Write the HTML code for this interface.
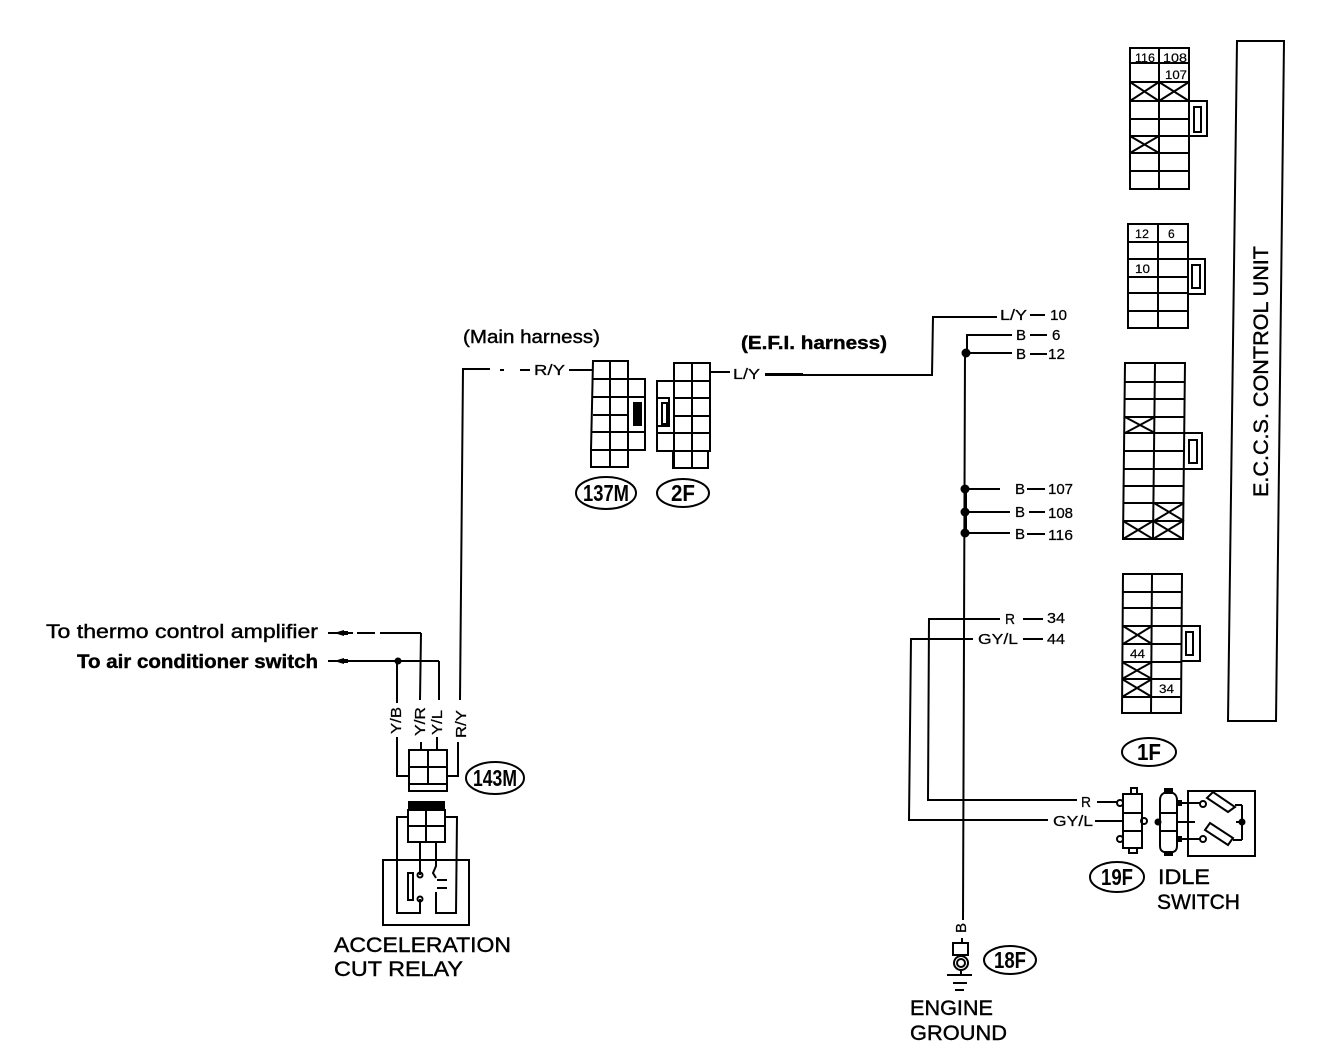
<!DOCTYPE html>
<html><head><meta charset="utf-8"><style>
html,body{margin:0;padding:0;background:#fff}
svg{display:block}
text{font-family:"Liberation Sans",sans-serif;fill:#000}
.t{font-size:18px;stroke:#000;stroke-width:.4px}
.m{font-size:15px;stroke:#000;stroke-width:.25px}
.s{font-size:12px;stroke:#000;stroke-width:.2px}
.o{font-size:23px;font-weight:bold;text-anchor:middle}
</style></head><body>
<svg width="1328" height="1046" viewBox="0 0 1328 1046" xmlns="http://www.w3.org/2000/svg">
<g fill="none" stroke="#000" stroke-width="2">
<!-- Connector 1 -->
<path d="M1130 48H1189V189H1130ZM1130 63H1189M1130 82H1189M1130 101H1189M1130 119H1189M1130 136H1189M1130 153H1189M1130 171H1189M1159 48V189"/>
<path d="M1189 101H1207V136H1189M1194 107H1201V132H1194Z"/>
<path d="M1130 82L1159 101M1159 82L1130 101M1159 82L1189 101M1189 82L1159 101M1130 136L1159 153M1159 136L1130 153"/>
<!-- Connector 2 -->
<path d="M1128 224H1188V328H1128ZM1128 242H1188M1128 259H1188M1128 277H1188M1128 293H1188M1128 311H1188M1158 224V328"/>
<path d="M1188 259H1205V294H1188M1192 265H1200V288H1192Z"/>
<!-- Connector 3 -->
<path d="M1125 363H1185L1183 539H1123ZM1125 382H1185M1125 399H1185M1125 417H1184M1125 433H1184M1124 451H1184M1124 469H1184M1124 486H1184M1124 503H1184M1123 521H1183M1155 363L1153 539"/>
<path d="M1184 433H1202V469H1184M1189 440H1197V463H1189Z"/>
<path d="M1125 417L1155 433M1155 417L1125 433M1154 503L1184 521M1184 503L1154 521M1123 521L1153 539M1153 521L1123 539M1153 521L1183 539M1183 521L1153 539"/>
<!-- Connector 4 -->
<path d="M1123 574H1182L1181 713H1122ZM1123 592H1182M1123 608H1182M1123 626H1182M1123 644H1182M1122 662H1182M1122 679H1181M1122 697H1181M1152 574L1151 713"/>
<path d="M1182 626H1200V661H1182M1186 632H1193V655H1186Z"/>
<path d="M1123 626L1152 644M1152 626L1123 644M1122 662L1152 679M1152 662L1122 679M1122 679L1152 697M1152 679L1122 697"/>
<!-- Control unit box -->
<path d="M1237 41H1284L1276 721H1228Z"/>
<!-- 137M -->
<path d="M593 361H628V379H645V450H628V467H591V450Z"/>
<path d="M593 379H645M593 397H645M593 415H628M592 432H645M591 450H628M610 361V467M628 379V450"/>
<!-- 2F -->
<path d="M674 363H710V451H708V468H673V451H657V381H674Z"/>
<path d="M657 381H710M674 398H710M674 416H710M657 433H710M657 451H708M674 363V468M692 363V468"/>
<path d="M657 398H669V426H657M662 403H667V424H662Z"/>
<!-- Wires: main / EFI -->
<path d="M460 700L463 369H490M500 370H504M520 370H530M569 370H593"/>
<path d="M710 372H730M765 375H932L933 317H997"/>
<path d="M458 742V776H447M397 737V776H409M421 742V750M437 737V750M397 661V703M421 633L420 700M439 661V700M357 633H375M380 633H421M328 661H439M328 633H353"/>
<!-- 143M -->
<path d="M409 750H447V791H409ZM409 767H447M409 784H447M428 750V784"/>
<!-- Relay connector -->
<path d="M408 810H445V842H408ZM408 826H445M426 810V842"/>
<path d="M408 817H397V913H420V899M445 817H457L456 913H436V892M420 842V875M436 842V866L433 873L436 878"/>
<path d="M383 860H469V925H383Z"/>
<path d="M408 873H413V900H408ZM437 880H447M437 888H447"/>
<circle cx="420" cy="875" r="2.5"/><circle cx="420" cy="899" r="2.5"/>
<!-- Ovals -->
<ellipse cx="495" cy="778" rx="29" ry="16"/>
<ellipse cx="606" cy="493" rx="30" ry="16"/>
<ellipse cx="683" cy="493" rx="26" ry="14"/>
<ellipse cx="1149" cy="752" rx="27" ry="14"/>
<ellipse cx="1117" cy="877" rx="27" ry="15"/>
<ellipse cx="1010" cy="960" rx="26" ry="14"/>
<!-- Ground bus -->
<path d="M1012 335H967V353M1012 353H966M965 353L963 920M965 489H1000M965 512H1010M965 533H1010"/>
<path d="M1030 335H1047M1030 354H1047M1027 489H1045M1029 512H1045M1027 534H1045M1023 619H1043M1023 639H1043M1030 315H1045"/>
<!-- R, GY/L wires -->
<path d="M1000 619H929L928 800H1077M1097 802H1118"/>
<path d="M973 639H911L909 820H1048M1095 821H1123"/>
<!-- 18F ground -->
<path d="M962 938V943M953 943H968V955H953ZM947 975H972M953 983H967M955 990H964M961 970V975"/>
<circle cx="961" cy="963" r="7"/><circle cx="961" cy="963" r="4"/>
<!-- 19F -->
<path d="M1123 794H1142V848H1123ZM1123 813H1142M1123 831H1142M1131 794V788H1137V794M1129 848V853H1137V848"/>
<circle cx="1120" cy="803" r="3"/><circle cx="1120" cy="839" r="3"/><circle cx="1144" cy="821" r="3"/>
<!-- Switch connector -->
<path d="M1164 793H1173Q1177 795 1177 800V846Q1177 851 1173 852H1164Q1160 851 1160 846V800Q1160 795 1164 793ZM1160 813H1177M1160 831H1177"/>
<path d="M1188 791H1255V856H1188Z"/>
<path d="M1179 803H1200M1179 839H1200M1177 822H1195M1236 822H1242M1242 805V840M1235 805H1242M1233 840H1242"/>
<circle cx="1203" cy="804" r="3"/><circle cx="1203" cy="839" r="3"/>
<path d="M1207 798L1213 792L1235 807L1228 812ZM1205 830L1210 823L1233 838L1228 845Z"/>
</g>
<g fill="#000">
<rect x="633" y="402" width="9" height="24"/>
<rect x="408" y="801" width="37" height="9"/>
<rect x="765" y="373" width="38" height="3"/>
<rect x="964" y="489" width="3" height="44"/>
<circle cx="398" cy="661" r="3.5"/>
<circle cx="966" cy="353" r="4.5"/><circle cx="965" cy="489" r="4.5"/><circle cx="965" cy="512" r="4.5"/><circle cx="965" cy="533" r="4.5"/>
<path d="M334 633L344 630V636ZM334 661L344 658V664Z"/>
<rect x="340" y="631" width="8" height="4"/><rect x="340" y="659" width="8" height="4"/>
<rect x="1164" y="788" width="9" height="5"/><rect x="1164" y="852" width="9" height="4"/>
<circle cx="1158" cy="822" r="3.5"/><rect x="1176" y="800" width="6" height="6"/><rect x="1176" y="836" width="6" height="6"/><circle cx="1242" cy="822" r="3.5"/>
</g>
<!-- Long labels -->
<text class="t" style="font-size:19px" x="46" y="638" textLength="272" lengthAdjust="spacingAndGlyphs">To thermo control amplifier</text>
<text class="t" style="font-size:19px;font-weight:bold" x="77" y="668" textLength="241" lengthAdjust="spacingAndGlyphs">To air conditioner switch</text>
<text class="t" style="font-size:18px" x="463" y="343" textLength="137" lengthAdjust="spacingAndGlyphs">(Main harness)</text>
<text class="t" style="font-size:18px;font-weight:bold" x="741" y="349" textLength="146" lengthAdjust="spacingAndGlyphs">(E.F.I. harness)</text>
<text class="t" x="334" y="952" textLength="177" lengthAdjust="spacingAndGlyphs" style="font-size:21px">ACCELERATION</text>
<text class="t" x="334" y="976" textLength="129" lengthAdjust="spacingAndGlyphs" style="font-size:21px">CUT RELAY</text>
<text class="t" x="910" y="1015" textLength="83" lengthAdjust="spacingAndGlyphs" style="font-size:21px">ENGINE</text>
<text class="t" x="910" y="1040" textLength="97" lengthAdjust="spacingAndGlyphs" style="font-size:21px">GROUND</text>
<text class="t" x="1158" y="884" textLength="52" lengthAdjust="spacingAndGlyphs" style="font-size:21px">IDLE</text>
<text class="t" x="1157" y="909" textLength="83" lengthAdjust="spacingAndGlyphs" style="font-size:21px">SWITCH</text>
<text class="t" transform="translate(1268 497) rotate(-90)" textLength="251" lengthAdjust="spacingAndGlyphs" style="font-size:21px">E.C.C.S. CONTROL UNIT</text>
<!-- Wire labels -->
<text class="m" x="534" y="375" textLength="31" lengthAdjust="spacingAndGlyphs">R/Y</text>
<text class="m" x="733" y="379" textLength="27" lengthAdjust="spacingAndGlyphs">L/Y</text>
<text class="m" x="1000" y="320" textLength="27" lengthAdjust="spacingAndGlyphs">L/Y</text>
<text class="m" x="1050" y="320" textLength="17" lengthAdjust="spacingAndGlyphs">10</text>
<text class="m" x="1016" y="340">B</text><text class="m" x="1052" y="340">6</text>
<text class="m" x="1016" y="359">B</text><text class="m" x="1048" y="359" textLength="17" lengthAdjust="spacingAndGlyphs">12</text>
<text class="m" x="1015" y="494">B</text><text class="m" x="1048" y="494" textLength="25" lengthAdjust="spacingAndGlyphs">107</text>
<text class="m" x="1015" y="517">B</text><text class="m" x="1048" y="518" textLength="25" lengthAdjust="spacingAndGlyphs">108</text>
<text class="m" x="1015" y="539">B</text><text class="m" x="1048" y="540" textLength="25" lengthAdjust="spacingAndGlyphs">116</text>
<text class="m" x="1005" y="624" textLength="10" lengthAdjust="spacingAndGlyphs">R</text><text class="m" x="1047" y="623" textLength="18" lengthAdjust="spacingAndGlyphs">34</text>
<text class="m" x="978" y="644" textLength="40" lengthAdjust="spacingAndGlyphs">GY/L</text><text class="m" x="1047" y="644" textLength="18" lengthAdjust="spacingAndGlyphs">44</text>
<text class="m" x="1081" y="807" textLength="10" lengthAdjust="spacingAndGlyphs">R</text>
<text class="m" x="1053" y="826" textLength="40" lengthAdjust="spacingAndGlyphs">GY/L</text>
<text class="m" transform="translate(401 734) rotate(-90)" textLength="27" lengthAdjust="spacingAndGlyphs">Y/B</text>
<text class="m" transform="translate(425 736) rotate(-90)" textLength="29" lengthAdjust="spacingAndGlyphs">Y/R</text>
<text class="m" transform="translate(442 735) rotate(-90)" textLength="25" lengthAdjust="spacingAndGlyphs">Y/L</text>
<text class="m" transform="translate(466 738) rotate(-90)" textLength="28" lengthAdjust="spacingAndGlyphs">R/Y</text>
<text class="m" transform="translate(966 933) rotate(-90)">B</text>
<!-- Pin labels -->
<text class="s" x="1135" y="62" textLength="20" lengthAdjust="spacingAndGlyphs">116</text>
<text class="s" x="1163" y="62" textLength="24" lengthAdjust="spacingAndGlyphs">108</text>
<text class="s" x="1165" y="79" textLength="22" lengthAdjust="spacingAndGlyphs">107</text>
<text class="s" x="1135" y="238" textLength="14" lengthAdjust="spacingAndGlyphs">12</text>
<text class="s" x="1168" y="238">6</text>
<text class="s" x="1135" y="273" textLength="15" lengthAdjust="spacingAndGlyphs">10</text>
<text class="s" x="1130" y="658" textLength="15" lengthAdjust="spacingAndGlyphs">44</text>
<text class="s" x="1159" y="693" textLength="15" lengthAdjust="spacingAndGlyphs">34</text>
<!-- Oval labels -->
<text class="o" x="495" y="786" textLength="44" lengthAdjust="spacingAndGlyphs">143M</text>
<text class="o" x="606" y="501" textLength="46" lengthAdjust="spacingAndGlyphs">137M</text>
<text class="o" x="683" y="501" textLength="24" lengthAdjust="spacingAndGlyphs">2F</text>
<text class="o" x="1149" y="760" textLength="24" lengthAdjust="spacingAndGlyphs">1F</text>
<text class="o" x="1117" y="885" textLength="32" lengthAdjust="spacingAndGlyphs">19F</text>
<text class="o" x="1010" y="968" textLength="32" lengthAdjust="spacingAndGlyphs">18F</text>
</svg>
</body></html>
